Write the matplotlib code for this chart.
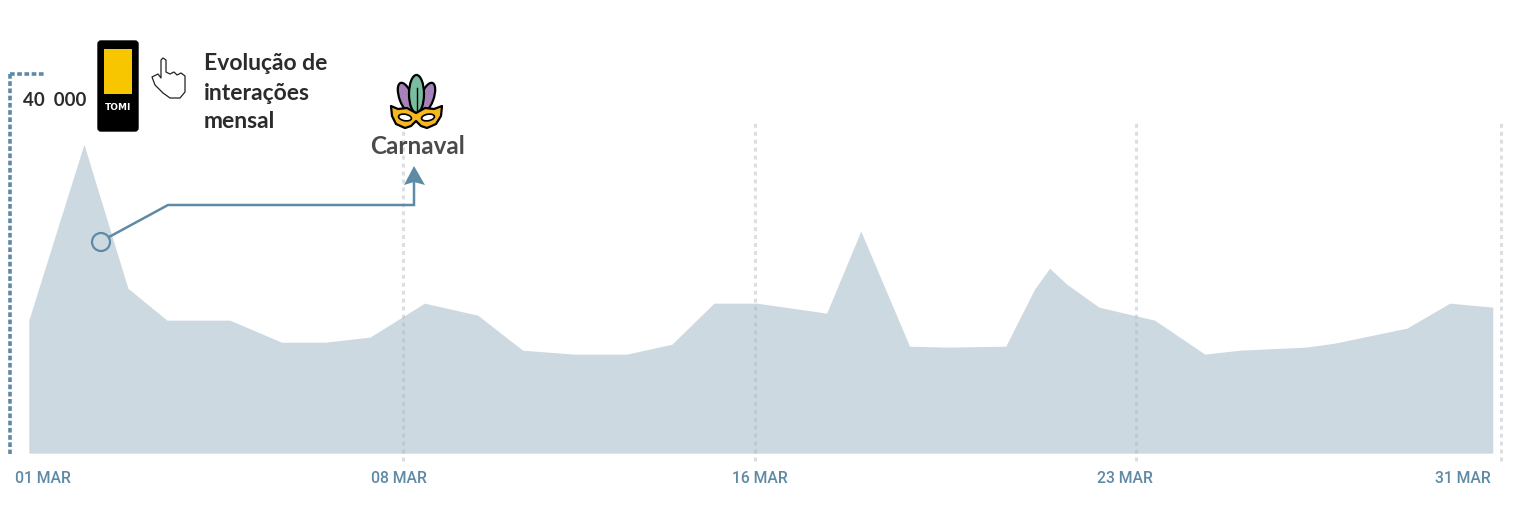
import matplotlib
matplotlib.use('Agg')
import matplotlib.pyplot as plt
from matplotlib.patches import Circle, FancyBboxPatch, Polygon, Rectangle, Ellipse

days = [1.00, 2.13, 3.03, 3.83, 5.12, 6.18, 7.07, 7.99, 9.11, 10.20, 11.12, 12.19, 13.25, 14.18, 15.04, 15.92,
        17.35, 18.05, 19.05, 19.83, 21.02, 21.61, 21.92, 22.27, 22.93, 24.07, 25.10, 25.82, 27.17, 27.76, 29.24,
        30.12, 31.00]
interacoes = [14000, 32525, 17370, 14000, 14000, 11680, 11680, 12210, 15790, 14525, 10840, 10420, 10420, 11470,
              15790, 15790, 14740, 23370, 11260, 11160, 11260, 17260, 19470, 17790, 15370, 14000, 10420, 10840,
              11160, 11580, 13160, 15790, 15370]
tick_days = [8.66, 15.88, 23.68, 31.16]
tick_labels = ['01 MAR', '08 MAR', '16 MAR', '23 MAR', '31 MAR']
label_days = [1.29, 8.58, 15.98, 23.46, 30.39]

BLUE = '#5f8aa5'
AREA = '#cdd9e1'
DARK = '#2b2b2b'

plt.rcParams['font.family'] = ['Lato', 'DejaVu Sans']
fig = plt.figure(figsize=(15.31, 5.17), dpi=100)
ax = fig.add_axes([0, 0, 1, 1])
ax.set_xlim(0.41, 31.784)
ax.set_ylim(-6720, 47700)
ax.axis('off')

ax.fill_between(days, interacoes, 0, color=AREA, lw=0)
for d in tick_days:
    ax.plot([d, d], [-840, 34900], color='#b0b8bd', lw=2.2, alpha=0.45, dashes=(1.3, 1.3), zorder=3)
for d, t in zip(label_days, tick_labels):
    ax.text(d, -2650, t, color=BLUE, fontsize=11.3, fontfamily='Roboto', fontweight='medium', ha='center', va='center')

# camada em pixels para os ornamentos
ov = fig.add_axes([0, 0, 1, 1])
ov.set_xlim(0, 1531)
ov.set_ylim(517, 0)
ov.axis('off')
ov.patch.set_alpha(0)

ov.plot([10, 10], [74, 454], color=BLUE, lw=2.6, dashes=(1.3, 0.7))
ov.plot([10, 44], [74, 74], color=BLUE, lw=2.6, dashes=(1.3, 0.7))
ov.text(55, 100, '40  000', color=DARK, fontsize=13.5, fontweight='bold', ha='center', va='center')

# aparelho TOMI
ov.add_patch(FancyBboxPatch((98, 41), 40, 90, boxstyle='round,pad=0,rounding_size=3', fc='black', ec='black', lw=1))
ov.add_patch(Rectangle((104, 49), 28, 45, fc='#f7c600', ec='none'))
ov.text(118, 108, 'TOMI', color='white', fontsize=6.5, fontfamily='DejaVu Sans', fontweight='bold', ha='center', va='center')

# mao
hand = [(161, 60), (161, 78), (158, 74), (152, 77), (155, 85), (163, 93), (170, 98), (180, 98), (185, 92), (185, 76),
        (181, 73), (177, 75), (174, 72), (170, 74), (166, 72), (166, 60), (163, 58), (161, 60)]
ov.add_patch(Polygon(hand, closed=True, fc='white', ec='#222222', lw=0.9, joinstyle='round'))

for y, t in zip([64, 93, 122], ['Evolução de', 'interações', 'mensal']):
    ov.text(204, y, t, color=DARK, fontsize=16.5, fontweight='bold', ha='left', va='center')

# mascara
ov.add_patch(Ellipse((406, 98), 13, 32, angle=-20, fc='#a583b8', ec='black', lw=1.6, zorder=4))
ov.add_patch(Ellipse((427, 98), 13, 32, angle=20, fc='#a583b8', ec='black', lw=1.6, zorder=4))
ov.add_patch(Ellipse((416.5, 94), 15, 38, fc='#78bd9f', ec='black', lw=1.6, zorder=5))
ov.plot([416.5, 416.5], [88, 110], color='black', lw=1, zorder=6)
mask = [(391, 106), (398, 109), (407, 108), (416, 113), (425, 108), (434, 109), (442, 106), (441, 116), (436, 124),
        (427, 128), (421, 126), (416, 121), (411, 126), (405, 128), (396, 124), (392, 116)]
ov.add_patch(Polygon(mask, closed=True, fc='#f5b81f', ec='black', lw=1.6, joinstyle='round', zorder=7))
ov.add_patch(Ellipse((405, 117.5), 13, 6.5, angle=10, fc='white', ec='black', lw=1.2, zorder=8))
ov.add_patch(Ellipse((428, 117.5), 13, 6.5, angle=-10, fc='white', ec='black', lw=1.2, zorder=8))

ov.text(417.5, 146, 'Carnaval', color='#4a4a4a', fontsize=17.5, fontweight='bold', ha='center', va='center', zorder=8)

# seta
ov.plot([109, 168, 414, 414], [237, 205, 205, 182], color=BLUE, lw=1.8, solid_joinstyle='miter', zorder=6)
ov.add_patch(Polygon([(414, 166), (404, 185), (414, 182), (425, 185)], closed=True, fc=BLUE, ec='none', zorder=6))
ov.add_patch(Circle((101, 242), 9, fc='none', ec=BLUE, lw=1.6, zorder=6))

fig.savefig('out.png', dpi=100)
